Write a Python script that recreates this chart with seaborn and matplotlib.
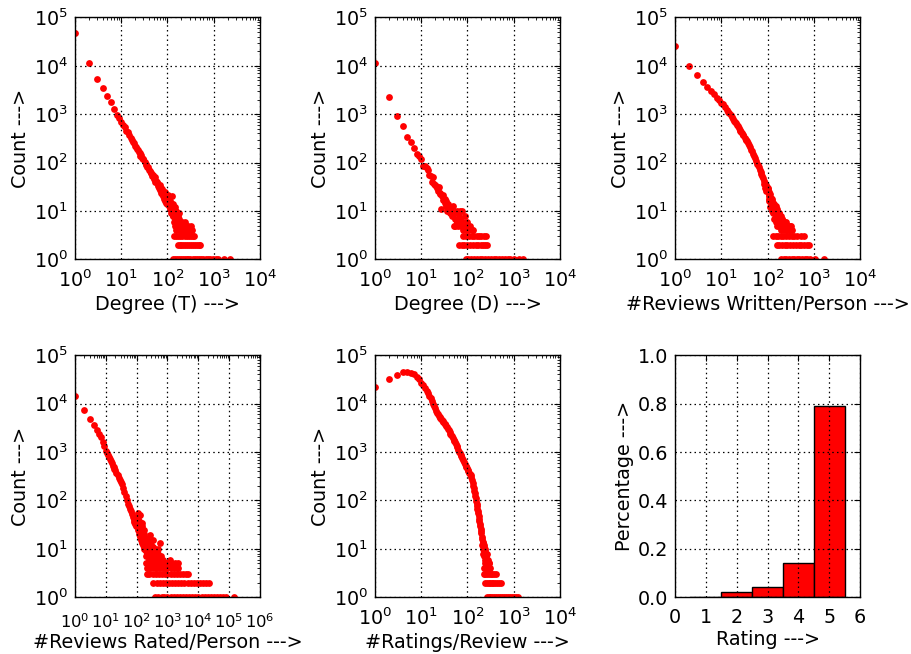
import numpy as np
import matplotlib
matplotlib.use("Agg")
import matplotlib.pyplot as plt
from matplotlib.ticker import LogLocator, NullFormatter, FormatStrFormatter
import seaborn as sns

# ---------------- data ----------------
# Panel 1: Degree (T)
deg_t_pts = [(1,47000),(2,11200),(3,5400),(4,3400),(5,2400),(6,1800),(7,1300),(8,960),(9,850),(10,690),
             (11,610),(12,540),(13,460),(14,420),(15,370),(16,330),(17,300),(18,265),(19,250),(20,225),
             (21,215),(22,190),(23,185),(24,165),(25,160),(26,140),(27,145),(28,125),(29,120),(30,118),
             (32,105),(34,95),(35,90),(36,82),(38,80),(40,70),(42,66),(44,60),(45,62),(46,52),(48,55),
             (50,48),(52,45),(54,50),(55,40),(56,42),(58,38),(60,40),(62,33),(64,36),(66,30),(68,34),
             (70,27),(72,30),(74,24),(76,28),(78,22),(80,26),(82,20),(84,23),(86,18),(88,25),(90,16),
             (92,20),(95,15),(98,18),(100,14),(103,21),(106,13),(110,19),(113,11),(116,16),(120,9),
             (124,12),(128,20),(131,8),(135,14),(139,10),(143,7),(147,12),(151,6),(156,9),(160,8),
             (165,5),(170,7),(176,6),(182,9),(188,5),(195,4),(202,6),(210,5),(218,4),(226,5),(235,4),
             (245,6),(260,4),(275,5),(300,4),(150,4),(175,4),(200,4),(230,4),(340,4),(145,5),(190,5),
             (250,5),(320,5),(165,6),(140,6),(160,7),(135,8),(180,7),(150,10),(125,9),(140,11),
             (105,17),(108,15),(112,14),(118,12),(122,15),(126,10),(132,11),(137,9),(145,9),(153,7),
             (158,6),(162,6),(168,5),(172,8),(185,6),(192,5),(198,5),(205,4),(215,5),(240,4),(255,5),
             (280,4)]
deg_t_three = [140,155,170,190,210,235,260,290,320,350,380]
deg_t_two = [170,185,200,220,240,265,290,320,350,390,430,470,510]
deg_t_one = [135,148,162,178,195,215,235,260,285,315,350,390,430,480,540,600,680,760,850,950,
             1100,1250,1700,2200]

# Panel 2: Degree (D)
deg_d_pts = [(1,11500),(2,2250),(3,920),(4,570),(5,340),(6,270),(7,200),(8,150),(9,135),(10,117),
             (11,87),(12,86),(13,76),(14,72),(15,55),(16,54),(17,39),(18,51),(19,37),(20,34),(21,33),
             (22,30),(23,26),(24,32),(25,22),(26,24),(27,11),(28,20),(29,17),(30,21),(32,15),(33,18),
             (34,13),(35,16),(36,10),(38,14),(40,12),(42,9),(44,11),(46,8),(48,13),(50,5),(52,9),
             (54,5),(55,7),(58,10),(59,6),(60,6),(62,5),(65,8),(68,6),(69,7),(70,10),(72,5),(75,10),
             (78,4),(80,6),(85,5),(90,8),(95,4),(100,6),(105,4),(113,5),(123,4),(130,4)]
deg_d_three = [80,95,110,125,140,160,180,200,225,255]
deg_d_two = [66,75,85,100,115,130,150,170,195,220,245,270]
deg_d_one = [95,105,120,140,160,185,210,240,280,320,370,420,480,550,650,750,850,1000,1300,1600]

# Panel 3: #Reviews Written/Person
rev_w_pts = [(1,25700),(2,9800),(3,6300),(4,4700),(5,3700),(6,3000),(7,2570),(8,2130),(9,1950),
             (10,1740),(11,1600),(12,1400),(13,1230),(14,1120),(15,1050),(16,960),(17,880),(18,800),
             (19,730),(20,690),(21,650),(22,600),(23,560),(24,520),(25,480),(26,460),(27,430),(28,400),
             (29,380),(30,370),(32,330),(34,300),(35,295),(36,280),(38,250),(40,230),(42,210),(44,185),
             (46,170),(48,150),(50,140),(53,125),(56,110),(59,95),(62,88),(65,80),(68,71),(71,64),
             (74,58),(77,52),(80,48),(84,42),(88,38),(92,35),(96,32),(100,28),(105,25),(110,20),
             (115,22),(120,15),(125,18),(130,12),(135,14),(140,10),(145,12),(150,8),(155,10),(160,7),
             (165,9),(170,6),(175,8),(180,5),(190,7),(200,6),(210,5),(220,6),(230,4),(240,5),(260,4),
             (280,5),(300,4),(200,4),(340,4),(160,5),(190,5),(320,5),(150,6),(250,6),(140,7),(210,7),
             (130,9),(200,8),(115,12),(125,10),(150,13),(105,18),(110,16),(95,26),(90,30),(85,36),
             (102,30),(130,15),(160,11),(180,9),(105,22),(112,17),(118,19),(122,13),(128,16),(133,11),
             (138,12),(143,9),(148,11),(153,9),(158,8),(163,10),(168,7),(173,9),(178,6),(185,7),
             (195,6),(205,7),(215,5),(225,5),(235,6),(245,4),(270,5),(290,4),(310,5)]
rev_w_three = [133,150,170,195,220,250,290,330,380,440,520,600]
rev_w_two = [157,180,205,235,270,310,360,410,470,540,620,700,770]
rev_w_one = [200,225,255,290,330,380,430,490,560,640,730,830,1050,1660]

# Panel 4: #Reviews Rated/Person
rev_r_pts = [(1,14200),(2,7400),(3,4700),(4,3550),(5,2830),(6,2400),(7,2000),(8,1620),(9,1320),
             (10,1070),(11,950),(12,870),(13,780),(14,720),(15,640),(16,580),(17,520),(18,480),
             (19,450),(20,420),(22,370),(24,330),(26,290),(28,260),(30,240),(33,220),(36,180),(40,150),
             (44,125),(48,100),(52,85),(56,75),(60,68),(65,60),(70,52),(75,46),(80,40),(85,36),(90,33),
             (95,30),(100,29),(105,40),(110,25),(115,35),(120,20),(125,30),(130,18),(135,24),(140,15),
             (145,22),(150,13),(155,19),(160,12),(165,17),(170,11),(175,15),(180,10),(190,14),(200,9),
             (210,13),(220,8),(230,12),(240,8),(250,11),(260,7),(280,10),(300,7),(320,9),(350,8),
             (380,7),(420,9),(450,6),(500,8),(575,13),(520,6),(600,7),(700,6),(800,5),(1200,6),(900,5),
             (1100,5),(110,45),(120,38),(130,28),(140,30),(150,26),(160,21),(170,20),(180,18),(200,16),
             (220,15),(250,14),(280,12),(300,12),(350,11),(400,10),(450,9),(500,10),(130,50),(115,55),
             (100,33),(108,30),(125,22),(160,15),(190,10),(240,10),(330,8),(270,19),(330,15),
             (145,16),(155,14),(165,13),(175,12),(185,11),(195,12),(205,10),(215,11),(225,9),(235,9),
             (255,9),(265,8),(290,8),(310,7),(340,7),(360,6),(400,7),(430,6),(470,7),(540,6),(650,6),
             (750,5),(1000,5),(280,6),(200,7),(230,7),(260,6),(320,6),(250,12),(190,17),(210,16),
             (175,25),(150,30),(135,35),(145,35)]
rev_r_five = [200,250,320,400,500,620,800,1000,1300,1700,2200]
rev_r_four = [210,250,300,380,460,560,700,850,1000,1300,1600,2000,2200]
rev_r_three = [210,260,330,420,520,650,820,1000,1300,1600,2000,2500,3100,3900,4800]
rev_r_two = [350,450,560,700,900,1100,1400,1800,2200,2800,3500,4500,5600,7000,9000,11000,14000,
             18000,22000]
rev_r_one = [400,500,650,800,1000,1300,1600,2000,2500,3200,4000,5000,6300,8000,10000,13000,16000,
             20000,25000,32000,40000,50000,63000,80000,145000]

# Panel 5: #Ratings/Review
rat_pts = [(1,21500),(2,31600),(3,39000),(4,44000),(5,44000),(6,42500),(7,40000),(8,35700),(9,32000),
           (10,27000),(11,24000),(12,21000),(13,18500),(14,16300),(15,14500),(16,12800),(17,11300),
           (18,10000),(19,9000),(20,8000),(21,7100),(22,6500),(23,6000),(24,5600),(25,5250),(26,5000),
           (27,4750),(28,4550),(29,4350),(30,4150),(32,3850),(33,3700),(35,3400),(36,3250),(38,3000),
           (39,2850),(41,2550),(42,2400),(44,2250),(46,2100),(48,1950),(50,1800),(52,1700),(54,1600),
           (56,1450),(58,1300),(60,1250),(63,1100),(66,1020),(68,950),(71,880),(74,820),(77,750),
           (81,680),(84,620),(88,560),(91,520),(95,480),(98,460),(101,430),(105,400),(108,375),
           (112,350),(117,330),(122,310),(126,270),(130,230),(134,200),(137,180),(141,160),(144,140),
           (147,125),(150,110),(154,97),(157,85),(160,76),(163,68),(167,60),(170,54),(174,48),(177,42),
           (181,37),(185,32),(189,29),(192,26),(196,23),(200,21),(205,18),(210,16),(215,14),(220,13),
           (224,12),(228,11),(232,10),(237,10),(241,9),(245,8),(250,6),(255,7),(260,6),(265,8),(270,5),
           (275,6),(280,4),(290,5),(300,4),(215,8),(225,7),(235,6),(245,5),(230,4),(250,4),(265,4),
           (285,5),(220,10),(210,12),(240,7)]
rat_three = [225,245,265,290,315,345,380,420]
rat_two = [245,265,285,310,335,365,400,440,480,525]
rat_one = [260,285,310,340,370,410,450,500,550,610,680,750,830,920,1020,1130,1240]

# Panel 6: rating distribution
ratings = [1, 2, 3, 4, 5]
rating_share = [0.003, 0.021, 0.044, 0.142, 0.789]


def assemble(pts, levels):
    xs = [p[0] for p in pts]
    ys = [p[1] for p in pts]
    for count, lx in levels:
        xs += list(lx)
        ys += [count] * len(lx)
    return xs, ys


panels = [
    (assemble(deg_t_pts, [(3, deg_t_three), (2, deg_t_two), (1, deg_t_one)]), "Degree (T) --->", 1e4),
    (assemble(deg_d_pts, [(3, deg_d_three), (2, deg_d_two), (1, deg_d_one)]), "Degree (D) --->", 1e4),
    (assemble(rev_w_pts, [(3, rev_w_three), (2, rev_w_two), (1, rev_w_one)]), "#Reviews Written/Person --->", 1e4),
    (assemble(rev_r_pts, [(5, rev_r_five), (4, rev_r_four), (3, rev_r_three), (2, rev_r_two), (1, rev_r_one)]),
     "#Reviews Rated/Person --->", 1e6),
    (assemble(rat_pts, [(3, rat_three), (2, rat_two), (1, rat_one)]), "#Ratings/Review --->", 1e4),
]

# ---------------- style ----------------
FS = 13.8
sns.set_style("white")
plt.rcParams.update({
    "font.family": ["DejaVu Sans"],
    "font.size": FS,
    "axes.labelsize": FS,
    "xtick.labelsize": FS,
    "ytick.labelsize": FS,
    "axes.edgecolor": "black",
    "axes.linewidth": 1.0,
    "text.color": "black",
    "axes.labelcolor": "black",
    "xtick.color": "black",
    "ytick.color": "black",
    "xtick.direction": "in",
    "ytick.direction": "in",
    "xtick.top": True,
    "ytick.right": True,
    "xtick.major.size": 4,
    "ytick.major.size": 4,
    "xtick.minor.size": 2,
    "ytick.minor.size": 2,
    "xtick.major.pad": 7.5,
    "ytick.major.pad": 5,
    "axes.labelpad": 2.5,
})

fig, axes = plt.subplots(2, 3, figsize=(9.12, 6.54), dpi=100)
fig.subplots_adjust(left=0.0822, right=0.943, top=0.9735, bottom=0.0867, wspace=0.622, hspace=0.395)
axs = axes.ravel()

grid_kw = dict(color="black", linestyle=(0, (1.2, 2.6)), linewidth=0.9)

for ax, ((xs, ys), xlabel, xmax) in zip(axs[:5], panels):
    sns.scatterplot(x=xs, y=ys, ax=ax, color="red", s=24, linewidth=0, legend=False)
    ax.set_xscale("log")
    ax.set_yscale("log")
    ax.set_xlim(1, xmax)
    ax.set_ylim(1, 1e5)
    for axis in (ax.xaxis, ax.yaxis):
        axis.set_major_locator(LogLocator(base=10, numticks=20))
        axis.set_minor_locator(LogLocator(base=10, subs=np.arange(2, 10), numticks=20))
        axis.set_minor_formatter(NullFormatter())
    ax.tick_params(which="both", direction="in", top=True, right=True)
    ax.grid(True, which="major", **grid_kw)
    ax.grid(False, which="minor")
    ax.set_axisbelow(False)
    ax.set_xlabel(xlabel)
    ax.set_ylabel("Count --->")
    for sp in ax.spines.values():
        sp.set_visible(True)
        sp.set_color("black")
        sp.set_linewidth(1.0)

# the six-decade axis has crowded labels: make them a little smaller and
# drop them a bit so they clear the neighbouring labels
axs[3].tick_params(axis="x", which="major", labelsize=11.8, pad=10.5)
axs[3].xaxis.labelpad = 1.5

ax6 = axs[5]
sns.barplot(x=ratings, y=rating_share, native_scale=True, width=1, color="red", saturation=1,
            edgecolor="black", linewidth=1, errorbar=None, ax=ax6)
ax6.set_xlim(0, 6)
ax6.set_ylim(0, 1)
ax6.set_xticks(range(0, 7))
ax6.set_xticklabels([str(i) for i in range(0, 7)])
ax6.set_yticks([0.0, 0.2, 0.4, 0.6, 0.8, 1.0])
ax6.yaxis.set_major_formatter(FormatStrFormatter("%.1f"))
ax6.tick_params(which="both", direction="in", top=True, right=True)
ax6.grid(True, which="major", **grid_kw)
ax6.set_axisbelow(False)
ax6.set_xlabel("Rating --->")
ax6.set_ylabel("Percentage --->")
for sp in ax6.spines.values():
    sp.set_visible(True)
    sp.set_color("black")
    sp.set_linewidth(1.0)

fig.savefig("out.png", dpi=100, facecolor="white")
